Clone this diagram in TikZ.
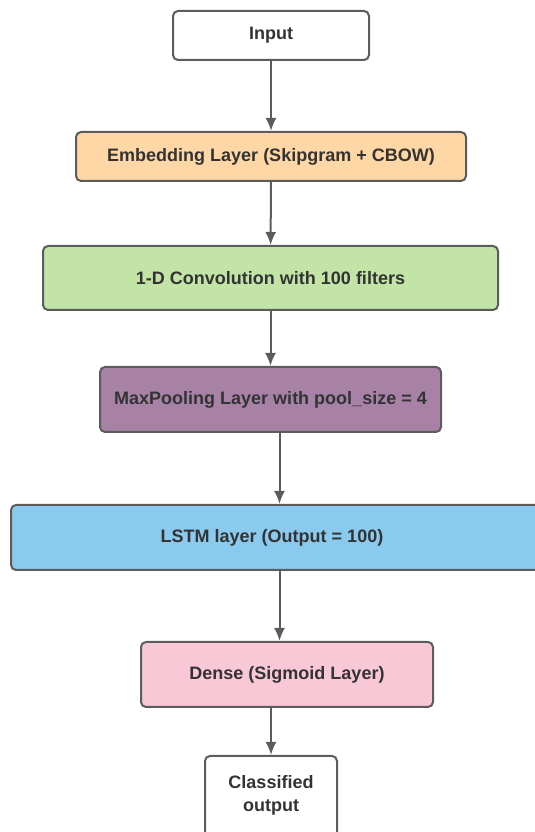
\documentclass[tikz,border=0pt]{standalone}
\usepackage{fontspec}
\setmainfont{Liberation Sans}
\usetikzlibrary{positioning, arrows.meta}
\definecolor{BorderColor}{RGB}{92,92,92}
\definecolor{TextColor}{RGB}{51,51,51}
\definecolor{EmbedColor}{RGB}{255,214,165}
\definecolor{ConvColor}{RGB}{194,228,166}
\definecolor{PoolColor}{RGB}{168,130,166}
\definecolor{LstmColor}{RGB}{138,202,238}
\definecolor{DenseColor}{RGB}{249,200,214}
\tikzset{
  layer/.style={draw=BorderColor, line width=2pt, rounded corners=5pt, text=TextColor,
    font=\fontsize{18}{22.5}\selectfont\bfseries, align=center},
  flow/.style={-{Latex[length=13pt, width=11pt]}, draw=BorderColor, line width=2pt}
}

\begin{document}
\begin{tikzpicture}[x=1pt, y=1pt]
  \useasboundingbox (0,0) rectangle (535,832);
  \clip (0,0) rectangle (535,832);
  % Layers
  \node[layer, minimum width=196, minimum height=49] (input) at (271,796.5) {Input};
  \node[layer, fill=EmbedColor, minimum width=390, minimum height=49] (embed) at (271,675.5) {Embedding Layer (Skipgram + CBOW)};
  \node[layer, fill=ConvColor, minimum width=455, minimum height=64] (conv) at (270.5,554) {1-D Convolution with 100 filters};
  \node[layer, fill=PoolColor, minimum width=341, minimum height=65] (pool) at (270.5,432.5) {MaxPooling Layer with pool\_size = 4};
  \node[layer, fill=LstmColor, minimum width=537, minimum height=65] (lstm) at (279.5,294.5) {LSTM layer (Output = 100)\hspace*{15pt}};
  \node[layer, fill=DenseColor, minimum width=292, minimum height=65] (dense) at (287,157.5) {Dense (Sigmoid Layer)};
  % Output (cut off at the bottom)
  \node[layer, anchor=north, minimum width=132, inner ysep=0pt] (out) at (271,77)
    {\raisebox{0pt}[33pt][70pt]{\parbox[t]{110pt}{\centering Classified\\output}}};
  % Arrows
  \draw[flow] (input) -- (embed);
  \draw[flow] (embed) -- (conv);
  \draw[flow] (conv) -- (pool);
  \draw[flow] (pool.south -| lstm.north) -- (lstm.north);
  \draw[flow] (lstm.south) -- (lstm.south |- dense.north);
  \draw[flow] (dense.south -| out.north) -- (out.north);
\end{tikzpicture}
\end{document}
